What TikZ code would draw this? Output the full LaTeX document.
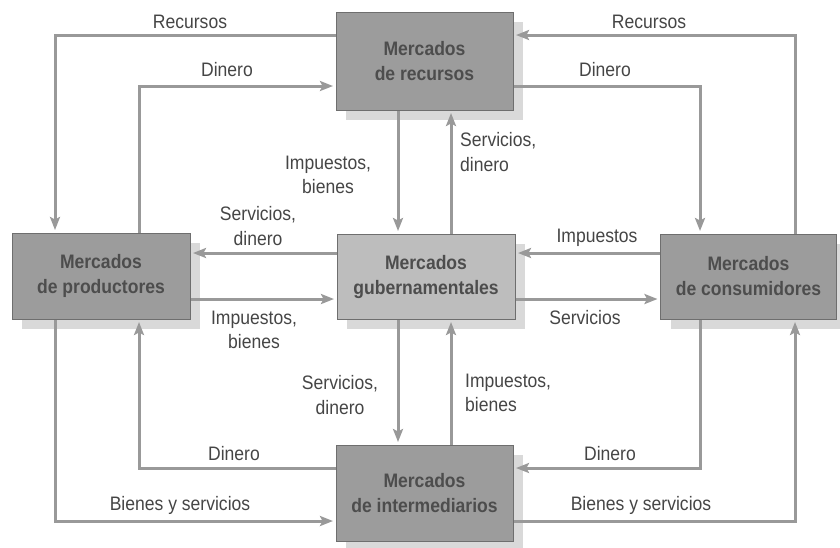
\documentclass[tikz,border=0pt]{standalone}
\usepackage{fontspec}
\setmainfont{Liberation Sans}[FakeStretch=0.9]
\usetikzlibrary{arrows.meta,calc}
\pgfdeclarelayer{bg}
\pgfsetlayers{bg,main}
\definecolor{boxd}{HTML}{9C9C9C}
\definecolor{boxl}{HTML}{BDBDBD}
\definecolor{edgec}{HTML}{6E6E6E}
\definecolor{shad}{HTML}{D9D9D9}
\definecolor{flow}{HTML}{999999}
\definecolor{txt}{HTML}{454545}
\definecolor{btxt}{HTML}{4D4D4D}
\begin{document}
\begin{tikzpicture}[x=1pt,y=-1pt,
  mbox/.style={draw=edgec, line width=1pt, fill=boxd, minimum width=177pt, minimum height=#1, inner sep=0pt, outer sep=0pt, align=center, font=\fontsize{19.5}{25}\selectfont\bfseries, text=btxt},
  flowline/.style={draw=flow, line width=3pt, -{Stealth[length=13pt,width=10pt,inset=2.5pt]}, shorten >=3pt},
  lbl/.style={font=\fontsize{19.5}{24.5}\selectfont, text=txt, inner sep=0pt, align=center}]
\useasboundingbox (0,0) rectangle (840,547);
% boxes
\node[mbox=98pt, minimum width=177pt] (res) at (424.5,61) {Mercados\\de recursos};
\node[mbox=86pt, minimum width=178pt] (prod) at (101,276) {Mercados\\de productores};
\node[mbox=85pt, fill=boxl, minimum width=178pt] (gov) at (426,276.5) {Mercados\\gubernamentales};
\node[mbox=85pt, minimum width=176pt] (cons) at (748.5,276.5) {Mercados\\de consumidores};
\node[mbox=96pt, minimum width=177pt] (int) at (424.5,493) {Mercados\\de intermediarios};
% routing coordinates
\coordinate (a1) at (55,35);
\coordinate (a2) at (139,86);
\coordinate (a3) at (795,35);
\coordinate (a4) at (700,86);
\coordinate (b1) at (139,468);
\coordinate (b2) at (55,521);
\coordinate (b3) at (700,468);
\coordinate (b4) at (795,521);
\coordinate (v1) at (398,0);
\coordinate (v2) at (451,0);
\coordinate (h1) at (0,253);
\coordinate (h2) at (0,299);
\begin{pgfonlayer}{bg}
\foreach \n in {res,prod,gov,cons,int}
  \fill[shad] ($(\n.south west)+(10,10)$) rectangle ($(\n.north east)+(10,10)$);
\draw[flowline] (res.west |- a1) -- (a1) -- (prod.north -| a1);
\draw[flowline] (prod.north -| a2) -- (a2) -- (res.west |- a2);
\draw[flowline] (cons.north -| a3) -- (a3) -- (res.east |- a3);
\draw[flowline] (res.east |- a4) -- (a4) -- (cons.north -| a4);
\draw[flowline] (res.south -| v1) -- (gov.north -| v1);
\draw[flowline] (gov.north -| v2) -- (res.south -| v2);
\draw[flowline] (gov.west |- h1) -- (prod.east |- h1);
\draw[flowline] (prod.east |- h2) -- (gov.west |- h2);
\draw[flowline] (cons.west |- h1) -- (gov.east |- h1);
\draw[flowline] (gov.east |- h2) -- (cons.west |- h2);
\draw[flowline] (gov.south -| v1) -- (int.north -| v1);
\draw[flowline] (int.north -| v2) -- (gov.south -| v2);
\draw[flowline] (int.west |- b1) -- (b1) -- (prod.south -| b1);
\draw[flowline] (prod.south -| b2) -- (b2) -- (int.west |- b2);
\draw[flowline] (cons.south -| b3) -- (b3) -- (int.east |- b3);
\draw[flowline] (int.east |- b4) -- (b4) -- (cons.south -| b4);
\end{pgfonlayer}
% labels
\node[lbl] (l1) at (190,22) {Recursos};
\node[lbl] (l2) at (227,70) {Dinero};
\node[lbl] (l3) at (649,22) {Recursos};
\node[lbl] (l4) at (605,70) {Dinero};
\node[lbl] (l5) at (328,175) {Impuestos,\\bienes};
\node[lbl, align=left, anchor=west] (l6) at (460,152) {Servicios,\\dinero};
\node[lbl] (l7) at (258,226) {Servicios,\\dinero};
\node[lbl] (l8) at (254,330) {Impuestos,\\bienes};
\node[lbl] (l9) at (597,238) {Impuestos};
\node[lbl] (l10) at (585,318) {Servicios};
\node[lbl] (l11) at (340,395) {Servicios,\\dinero};
\node[lbl, align=left, anchor=west] (l12) at (465,393) {Impuestos,\\bienes};
\node[lbl] (l13) at (234,454) {Dinero};
\node[lbl] (l14) at (180,505) {Bienes y servicios};
\node[lbl] (l15) at (610,454) {Dinero};
\node[lbl] (l16) at (641,505) {Bienes y servicios};
\end{tikzpicture}
\end{document}
